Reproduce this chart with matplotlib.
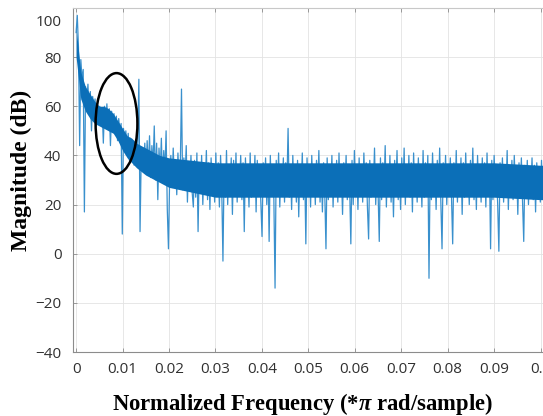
import matplotlib.pyplot as plt
import numpy as np
from matplotlib.patches import Ellipse
from matplotlib.transforms import ScaledTranslation

plt.rcParams['mathtext.fontset'] = 'custom'
plt.rcParams['mathtext.it'] = 'Liberation Serif:italic:bold'
plt.rcParams['mathtext.rm'] = 'Liberation Serif:bold'

# spectrum magnitude (dB), one value per frequency bin
bin_step = 0.000255
magnitude = [
    90, 97, 84, 44, 79, 71, 75, 17, 68, 62, 69, 57, 66, 50, 64, 58, 63, 52, 61, 54,
    60, 53, 59, 45, 60, 54, 61, 52, 59, 44, 58, 52, 57, 50, 56, 46, 55, 49, 53, 8,
    51, 44, 50, 41, 49, 38, 47, 40, 46, 36, 45, 38, 44, 71, 9, 40, 43, 35, 45, 33,
    46, 34, 48, 31, 44, 36, 52, 30, 45, 22, 43, 33, 47, 29, 42, 34, 50, 18, 2, 31,
    40, 27, 43, 30, 38, 24, 41, 29, 36, 67, 26, 39, 31, 44, 21, 37, 28, 40, 25, 19,
    38, 23, 41, 9, 36, 25, 40, 20, 35, 27, 42, 22, 37, 18, 39, 26, 34, 21, 41, 24,
    37, 19, 40, 26, -3, 35, 23, 42, 20, 36, 27, 39, 16, 38, 24, 41, 21, 35, 28, 40,
    22, 37, 9, 39, 25, 34, 19, 41, 23, 36, 27, 40, 17, 38, 24, 35, 21, 7, 37, 26,
    39, 20, 36, 5, 40, 24, 34, 22, -14, 38, 26, 41, 19, 35, 25, 39, 21, 37, 28, 51,
    23, 36, 18, 40, 25, 34, 21, 38, 15, 36, 26, 41, 22, 35, 4, 39, 24, 36, 19, 40,
    25, 35, 20, 38, 27, 42, 21, 34, 17, 37, 24, 2, 39, 22, 36, 26, 40, 19, 35, 25,
    38, 21, 41, 24, 34, 16, 37, 26, 40, 22, 35, 27, 4, 38, 20, 42, 25, 36, 18, 39,
    24, 35, 21, 41, 26, 37, 19, 6, 38, 23, 36, 27, 43, 20, 34, 25, 5, 39, 22, 37,
    26, 44, 19, 36, 24, 40, 21, 35, 15, 38, 27, 42, 22, 36, 18, 39, 25, 43, 20, 35,
    26, 40, 23, 37, 17, 41, 24, 36, 21, 39, 27, 35, 19, 42, 23, 37, 25, 40, -10, 36,
    22, 41, 26, 35, 18, 38, 24, 43, 21, 2, 37, 25, 40, 20, 36, 27, 39, 23, 4, 37,
    24, 42, 21, 35, 26, 39, 16, 37, 23, 41, 25, 34, 20, 38, 27, 43, 22, 36, 18, 40,
    25, 35, 21, 39, 26, 37, 19, 41, 24, 36, 2, 38, 22, 40, 27, 35, 20, 1, 37, 25,
    39, 21, 36, 26, 42, 18, 35, 24, 38, 22, 40, 27, 34, 16, 37, 25, 39, 21, 5, 36,
    24, 38, 20, 35, 26, 39, 22, 36, 17, 37, 25, 34, 21, 38, 24, 35, 19, 36, 8, 33,
]
freq = np.arange(len(magnitude)) * bin_step

# dense (solid-looking) core of the trace, low/high edge in dB
core_freq = [0.0, 0.001, 0.002, 0.003, 0.004, 0.005, 0.006, 0.007, 0.008, 0.009,
             0.010, 0.011, 0.012, 0.013, 0.015, 0.018, 0.020, 0.025, 0.030, 0.040,
             0.050, 0.060, 0.070, 0.080, 0.090, 0.100, 0.102]
core_low = [80, 63, 58, 55, 53, 52, 51, 50, 49, 46,
            42, 39, 37, 35, 32, 29, 27, 25, 23, 23,
            23, 23, 23, 23, 23, 22, 22]
core_high = [92, 74, 68, 65, 62, 60, 60, 59, 57, 54,
             51, 48, 47, 45, 43, 40, 39, 38, 37, 37,
             37, 37, 37, 37, 37, 36, 36]

x_ticks = [0, 0.01, 0.02, 0.03, 0.04, 0.05, 0.06, 0.07, 0.08, 0.09, 0.1]
x_ticklabels = ['0', '0.01', '0.02', '0.03', '0.04', '0.05', '0.06', '0.07', '0.08', '0.09', '0.1']
y_ticks = [-40, -20, 0, 20, 40, 60, 80, 100]

# highlighted region (centre freq, centre dB, width, height)
circle_f, circle_db, circle_w, circle_h = 0.0087, 53, 0.0090, 41

fig = plt.figure(figsize=(5.43, 4.16), dpi=100)
ax = fig.add_axes([72.5 / 543, 64 / 416, 485 / 543, 344 / 416])

ax.plot(freq, magnitude, color='#3990cd', linewidth=0.9, zorder=2)
ax.fill_between(core_freq, core_low, core_high, color='#0b6fb8', linewidth=0, zorder=3)
ax.add_patch(Ellipse((circle_f, circle_db), circle_w, circle_h,
                     fill=False, edgecolor='black', linewidth=1.8, zorder=5))

ax.set_xlim(-0.000775, 0.10366)
ax.set_ylim(-40, 100)
ax.set_xticks(x_ticks)
ax.set_xticklabels(x_ticklabels)
ax.set_yticks(y_ticks)
ax.grid(True, color='#e3e3e3', linewidth=0.6)
ax.set_axisbelow(True)
ax.tick_params(direction='in', length=3, width=0.6, color='#8c8c8c',
               labelsize=11, labelcolor='#303030', top=True)
ax.tick_params(axis='x', pad=7)
ax.tick_params(axis='y', pad=8)
for lab in ax.get_xticklabels() + ax.get_yticklabels():
    lab.set_fontfamily('Open Sans')
for s in ax.spines.values():
    s.set_color('#8c8c8c')
    s.set_linewidth(0.8)
ax.spines['top'].set_color('#c8c8c8')

# the "100" label sits a little below its tick in the original
top_lab = ax.get_yticklabels()[-1]
top_lab.set_transform(top_lab.get_transform() + ScaledTranslation(0, -12 / 100, fig.dpi_scale_trans))

fig.text(21 / 543, 1 - 170 / 416, 'Magnitude (dB)', rotation=90, ha='center', va='center',
         fontsize=17, fontweight='bold', family='Liberation Serif')
fig.text(302 / 543, 1 - 404 / 416, r'Normalized Frequency (*$\pi$ rad/sample)',
         ha='center', va='center', fontsize=16.3, fontweight='bold', family='Liberation Serif')

fig.savefig('out.png', dpi=100)
